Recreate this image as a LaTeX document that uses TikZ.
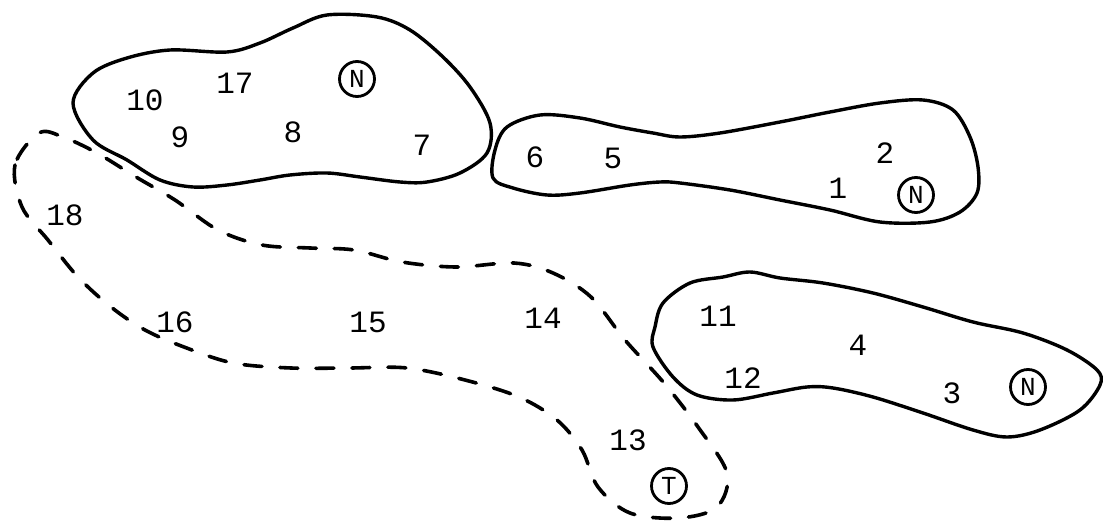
\documentclass[tikz,border=0pt]{standalone}
\usepackage{fontspec}
\setmonofont{Liberation Mono}
\begin{document}
\begin{tikzpicture}[x=1pt,y=-1pt,
  blob/.style={line width=3.4pt, line join=round},
  dblob/.style={line width=3.6pt, line cap=round, dash pattern=on 18pt off 18pt},
  lab/.style={font=\ttfamily\fontsize{31}{31}\selectfont, inner sep=0pt},
  circ/.style={circle, draw, line width=2.8pt, minimum size=35pt, inner sep=0pt, font=\ttfamily\fontsize{26}{26}\selectfont}]
\useasboundingbox (0,0) rectangle (1103,521);
% top-left region
\draw[blob] plot[smooth cycle, tension=0.55] coordinates {
  (73,103) (93,73) (127,58) (170,50) (227,52) (260,43) (293,28) (327,15)
  (377,17) (410,30) (443,57) (470,87) (490,123) (487,153) (460,173)
  (427,182) (400,182) (360,177) (327,173) (290,175) (260,180) (227,185)
  (193,187) (160,180) (127,160) (93,140)};
% middle-right region
\draw[blob] plot[smooth cycle, tension=0.55] coordinates {
  (493,178) (495,150) (507,127) (540,115) (580,118) (620,127) (653,133)
  (680,137) (720,133) (780,122) (830,112) (880,103) (923,100) (953,110)
  (970,137) (978,167) (977,193) (960,212) (930,222) (880,222) (830,210)
  (780,200) (730,190) (680,183) (660,182) (630,185) (580,193) (547,195)
  (513,188)};
% bottom-right region
\draw[blob] plot[smooth cycle, tension=0.55] coordinates {
  (653,347) (655,327) (663,303) (690,283) (723,277) (750,272) (780,278)
  (823,283) (873,293) (923,307) (973,322) (1023,333) (1067,350) (1097,370)
  (1100,385) (1080,410) (1040,430) (1007,437) (973,430) (923,413)
  (873,397) (833,388) (807,387) (773,393) (733,400) (697,395) (673,377)};
% dashed region
\draw[dblob] plot[smooth cycle, tension=0.55] coordinates {
  (39,133) (15,165) (22,207) (48,240) (78,277) (111,307) (145,330)
  (184,347) (233,363) (291,368) (349,368) (407,368) (465,380) (519,397)
  (557,420) (582,450) (598,487) (630,513) (679,518) (717,507) (727,473)
  (698,427) (664,383) (625,340) (591,297) (553,273) (514,263) (456,267)
  (402,262) (354,250) (310,248) (262,245) (218,230) (175,200) (136,177)
  (97,153) (63,137)};
% circled letters
\node[circ] (n1) at (357,79) {N};
\node[circ] (n2) at (916,195) {N};
\node[circ] (n3) at (1028,387) {N};
\node[circ] (t1) at (669,486) {T};
% labels
\node[lab] (l10) at (145,100) {10};
\node[lab] (l17) at (235,83) {17};
\node[lab] (l9) at (180,137) {9};
\node[lab] (l8) at (293,132) {8};
\node[lab] (l7) at (422,145) {7};
\node[lab] (l6) at (535,157) {6};
\node[lab] (l5) at (613,158) {5};
\node[lab] (l2) at (885,153) {2};
\node[lab] (l1) at (838,188) {1};
\node[lab] (l18) at (65,215) {18};
\node[lab] (l16) at (175,322) {16};
\node[lab] (l15) at (368,322) {15};
\node[lab] (l14) at (543,318) {14};
\node[lab] (l11) at (718,316) {11};
\node[lab] (l4) at (858,345) {4};
\node[lab] (l12) at (743,378) {12};
\node[lab] (l3) at (952,393) {3};
\node[lab] (l13) at (628,440) {13};
\end{tikzpicture}
\end{document}
